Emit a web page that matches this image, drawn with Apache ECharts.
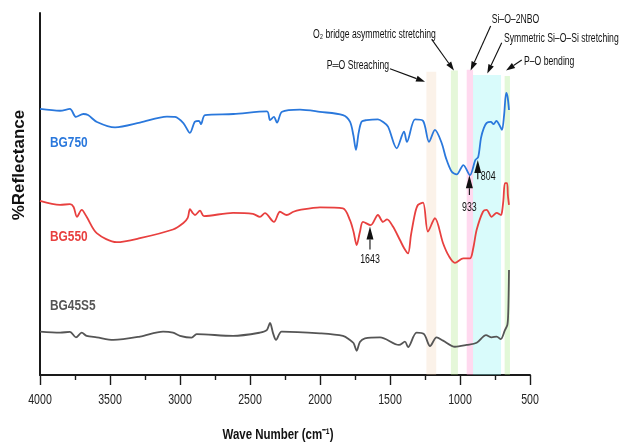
<!DOCTYPE html>
<html><head><meta charset="utf-8">
<script src="https://cdn.jsdelivr.net/npm/echarts/dist/echarts.min.js"></script>
<style>html,body{margin:0;padding:0;background:#fff}#c{width:620px;height:444px}</style>
</head><body><div id="c"></div>
<script>
// ---------- DATA ----------
const seriesNames = ['BG750', 'BG550', 'BG45S5'];
const xTicks = [4000, 3500, 3000, 2500, 2000, 1500, 1000, 500];

const wnBG750 = [4000,3857,3786,3743,3690,3657,3593,3464,3286,3093,3036,2976,2929,2893,2864,2850,2821,2619,2379,2357,2329,2307,2271,2143,2000,1836,1786,1762,1743,1724,1702,1667,1586,1550,1514,1452,1400,1379,1321,1264,1221,1179,1131,1100,1060,1024,976,929,890,870,850,830,810,780,760,740,715,700,685,670,660,650];
const valBG750 = [73.5,73.0,73.5,71.3,72.1,71.8,69.9,68.4,69.7,71.4,71.3,69.6,66.9,70.0,70.2,69.3,71.8,72.1,72.8,70.4,71.3,69.7,72.7,73.3,72.7,71.8,70.0,66.3,62.2,66.9,70.0,70.4,70.6,69.9,68.6,62.6,67.2,64.4,70.6,70.2,64.4,67.7,64.1,59.9,56.2,55.4,58.0,55.2,59.4,60.2,65.5,68.2,69.6,69.9,69.3,70.2,68.8,67.7,71.8,77.9,76.8,73.2];

const wnBG550 = [4000,3857,3786,3760,3736,3702,3667,3595,3452,3286,3050,2976,2945,2929,2910,2893,2857,2829,2621,2479,2429,2393,2329,2286,2238,2190,2143,2000,1836,1786,1760,1738,1715,1693,1638,1586,1550,1521,1479,1429,1400,1371,1350,1321,1300,1264,1229,1179,1121,1080,1036,976,929,905,881,836,810,774,738,707,700,690,679,664,658,650];
const valBG550 = [48.1,47.0,47.2,46.4,43.7,45.6,43.7,39.2,36.7,37.8,40.2,42.0,43.4,45.8,44.8,44.2,45.4,43.9,44.8,44.5,43.7,44.7,42.3,45.1,44.2,45.1,45.6,46.3,46.0,42.8,39.5,35.9,39.5,42.3,41.4,44.2,42.3,43.0,41.0,37.3,35.1,33.6,38.7,44.7,47.0,47.6,39.6,43.3,36.4,32.9,31.0,32.2,32.2,35.1,40.1,45.1,45.6,43.7,44.8,44.2,45.0,48.3,53.0,53.0,49.7,47.0];

const wnBG45S5 = [4000,3857,3786,3743,3702,3667,3595,3476,3286,3121,3050,3000,2917,2881,2621,2429,2380,2357,2335,2314,2274,2000,1836,1786,1760,1738,1715,1679,1571,1436,1393,1371,1310,1257,1214,1167,1121,1036,952,881,814,774,738,709,679,662,656,652,650];
const valBG45S5 = [12.0,11.7,11.9,10.4,11.7,10.8,10.4,9.7,10.6,12.0,11.7,10.8,10.3,11.3,10.8,11.7,12.4,14.4,11.5,9.7,12.0,11.5,10.8,9.7,8.8,6.7,9.1,10.1,10.4,8.3,9.2,7.7,11.7,11.3,8.0,10.4,9.5,7.8,8.3,8.9,11.0,10.4,10.6,9.9,12.4,13.8,16.6,23.5,29.0];

// shaded assignment bands (cm-1 ranges) and their top level
const bandRanges = [[1240,1170],[1065,1015],[952,907],[907,707],[681,643]];
const bandTops = [83.8,84.1,84.3,82.9,82.6];
const bandNames = ['P═O Streaching','O₂ bridge asymmetric stretching','Si–O–2NBO','Symmetric Si–O–Si stretching','P–O bending'];

// marked peaks
const peakLabels = ['1643','933','804'];

// ---------- STYLE ----------
const colors = ['#2a78dc', '#e8403f', '#555555'];
const bandColors = ['rgba(240,205,170,0.26)','rgba(170,230,130,0.3)','rgba(255,150,210,0.36)','rgba(150,245,245,0.36)','rgba(170,235,140,0.34)'];
const FONT = "'Liberation Sans',Arial,sans-serif";
const SQUEEZE = 0.72;

// annotation anchors in data space [wavenumber, value]
const bandLabelAnchors = [
  {at:[1507,85.4], align:'right'},
  {at:[1611,93.9], align:'center'},
  {at:[774,98.1], align:'left'},
  {at:[686,93.0], align:'left'},
  {at:[543,86.5], align:'left'}
];
const bandArrows = [
  {from:[1500,84.6], to:[1250,81.0]},
  {from:[1202,92.7], to:[1043,84.1]},
  {from:[781,96.4], to:[924,84.1]},
  {from:[702,91.8], to:[805,83.3]},
  {from:[559,87.0], to:[671,84.1]}
];
const peakArrows = [
  {tip:[1643,41.0], tail:[1643,34.7], label:[1643,32.0], align:'center'},
  {tip:[933,55.2], tail:[933,49.7], label:[933,46.4], align:'center'},
  {tip:[873,59.4], tail:[873,54.1], label:[851,54.8], align:'left'}
];
const seriesLabelAnchors = [[3929,64.2],[3929,38.0],[3929,19.1]];

function pairs(w, v) { return w.map((x, i) => [x, v[i]]); }
const seriesData = [pairs(wnBG750, valBG750), pairs(wnBG550, valBG550), pairs(wnBG45S5, valBG45S5)];

const chart = echarts.init(document.getElementById('c'), null, {renderer:'canvas'});

const option = {
  animation: false,
  backgroundColor: '#fff',
  grid: {left: 40, right: 90, top: 13, bottom: 69},
  xAxis: {
    type: 'value', inverse: true, min: 500, max: 4000, interval: 500,
    axisLine: {show: true, lineStyle: {color: '#1a1a1a', width: 2}},
    axisTick: {show: true, inside: false, length: 10, lineStyle: {color: '#1a1a1a', width: 1.4}},
    minorTick: {show: true, splitNumber: 2, length: 5, lineStyle: {color: '#1a1a1a', width: 1.4}},
    splitLine: {show: false},
    axisLabel: {show: false}
  },
  yAxis: {
    type: 'value', min: 0, max: 100,
    axisLine: {show: true, lineStyle: {color: '#1a1a1a', width: 2}},
    axisTick: {show: false}, axisLabel: {show: false}, splitLine: {show: false}
  },
  series: seriesNames.map((n, i) => ({
    name: n, type: 'line', data: seriesData[i], showSymbol: false, symbol: 'none',
    smooth: 0.3, lineStyle: {color: colors[i], width: 1.8}, z: 2
  })).concat([{
    name: 'bands', type: 'line', data: [], z: 5, silent: true,
    markArea: {
      silent: true,
      data: bandRanges.map((r, i) => [
        {xAxis: r[0], yAxis: bandTops[i], itemStyle: {color: bandColors[i]}},
        {xAxis: r[1], yAxis: 0}
      ])
    }
  }])
};
chart.setOption(option);

function px(p) { return chart.convertToPixel({gridIndex: 0}, p); }
function arrowEls(p0, p1, L, W, lw) {
  const dx = p1[0]-p0[0], dy = p1[1]-p0[1];
  const len = Math.hypot(dx, dy);
  const ux = dx/len, uy = dy/len;
  const bx = p1[0]-ux*L, by = p1[1]-uy*L;
  const nx = -uy, ny = ux;
  return [
    {type:'line', shape:{x1:p0[0], y1:p0[1], x2:bx, y2:by}, style:{stroke:'#111', lineWidth:lw}, z:20},
    {type:'polygon', shape:{points:[[p1[0],p1[1]],[bx+nx*W,by+ny*W],[bx-nx*W,by-ny*W]]}, style:{fill:'#111'}, z:20}
  ];
}
function txt(p, text, font, fill, align, sx) {
  return {type:'text', x:p[0], y:p[1], scaleX:sx, z:21,
    style:{text:text, fill:fill, font:font, align:align, verticalAlign:'middle'}};
}

const g = [];
bandArrows.forEach(a => { g.push(...arrowEls(px(a.from), px(a.to), 9, 3, 1.1)); });
bandNames.forEach((t, i) => {
  g.push(txt(px(bandLabelAnchors[i].at), t, '12px ' + FONT, '#111', bandLabelAnchors[i].align, SQUEEZE));
});
peakArrows.forEach((a, i) => {
  g.push(...arrowEls(px(a.tail), px(a.tip), 13, 3.5, 1.1));
  g.push(txt(px(a.label), peakLabels[i], '13px ' + FONT, '#111', a.align, 0.68));
});
seriesNames.forEach((n, i) => {
  g.push(txt(px(seriesLabelAnchors[i]), n, 'bold 14.5px ' + FONT, colors[i], 'left', 0.82));
});
// tick labels
xTicks.forEach(t => {
  const p = px([t, 0]);
  g.push(txt([p[0], p[1] + 25], String(t), '14.5px ' + FONT, '#222', 'center', 0.73));
});
// axis titles
const xt = px([2300, 0]);
g.push(txt([xt[0], xt[1] + 60], 'Wave Number (cm⁻¹)', 'bold 15.5px ' + FONT, '#111', 'center', 0.74));
g.push({type:'text', x:19, y:165, rotation:Math.PI/2, z:21, style:{text:'%Reflectance', fill:'#111', font:'bold 17px ' + FONT,
  align:'center', verticalAlign:'middle'}});

chart.setOption({graphic: {elements: g}});
</script>
</body></html>
